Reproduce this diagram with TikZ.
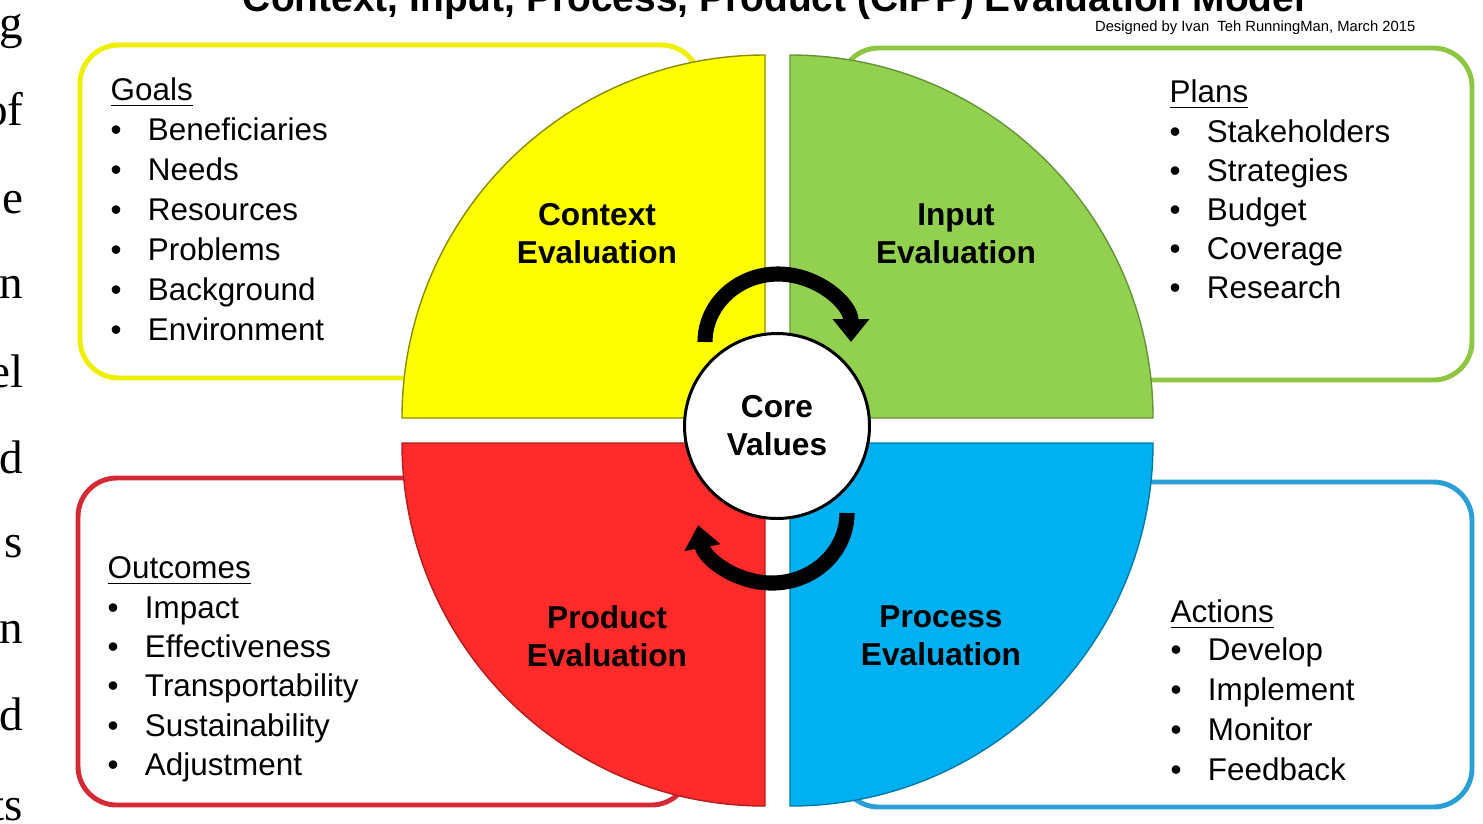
\documentclass[tikz,border=0pt]{standalone}
\usepackage{fontspec}
\setmainfont{Liberation Sans}
\newfontfamily\pageserif{Liberation Serif}
\usetikzlibrary{arrows.meta}
\definecolor{ctxyellow}{HTML}{FFFF00}
\definecolor{inpgreen}{HTML}{92D050}
\definecolor{prdred}{HTML}{FF2A2A}
\definecolor{prcblue}{HTML}{00B0F0}
\definecolor{goalline}{HTML}{EEF000}
\definecolor{planline}{HTML}{8DC640}
\definecolor{outcline}{HTML}{D42A35}
\definecolor{actline}{HTML}{2A9FD6}
\newcommand{\itm}[1]{\makebox[10.6pt][l]{\textbullet}#1}

\begin{document}
\begin{tikzpicture}[x=0.01cm,y=-0.01cm]
\tikzstyle{every node}+=[inner sep=0pt]
\tikzset{
  listbox/.style={line width=1.4pt, rounded corners=11pt},
  quad/.style={line width=0.4pt},
  cyc/.style={line width=4.3pt, -{Triangle[width=10pt,length=6.5pt]}},
  evl/.style={font=\bfseries\fontsize{9}{10.8}\selectfont, align=center},
  item/.style={font=\fontsize{8.93}{11}\selectfont, anchor=base west},
  edge/.style={font=\pageserif\fontsize{13.4}{14}\selectfont, anchor=base east}
}
\fill[white] (0,0) rectangle (1483,823);
\useasboundingbox (0,0) rectangle (1483,823);

\node[font=\bfseries\fontsize{11.07}{13}\selectfont, anchor=base] (title) at (774,11)
  {Context, Input, Process, Product (CIPP) Evaluation Model};
\node[font=\fontsize{4.2}{5}\selectfont, anchor=base east] (credit) at (1416,31)
  {Designed by Ivan\ \ Teh RunningMan, March 2015};

\foreach \t/\y [count=\i] in {g/38,of/125,e/213,n/298,el/387,d/473,s/557,n/643,d/730,ts/820}
  \node[edge] (m\i) at (24,\y) {\t};

\draw[listbox, goalline] (80,45) rectangle (700,378);
\draw[listbox, planline] (840,48) rectangle (1472,380);
\draw[listbox, outcline] (78,478) rectangle (690,805);
\draw[listbox, actline] (840,482) rectangle (1472,807);

\draw[quad, fill=ctxyellow, draw=ctxyellow!55!black] (765,418) -- (402,418)
  arc[start angle=180, end angle=270, radius=363] -- cycle;
\draw[quad, fill=inpgreen, draw=inpgreen!70!black] (790,418) -- (790,55)
  arc[start angle=270, end angle=360, radius=363] -- cycle;
\draw[quad, fill=prcblue, draw=prcblue!70!black] (790,443) -- (1153,443)
  arc[start angle=0, end angle=90, radius=363] -- cycle;
\draw[quad, fill=prdred, draw=prdred!70!black] (765,443) -- (765,806)
  arc[start angle=90, end angle=180, radius=363] -- cycle;

\coordinate (ctxarr) at (705,342);
\coordinate (prcarr) at (847,513);
\draw[cyc] (ctxarr) arc[start angle=180, end angle=360, x radius=73, y radius=68];
\draw[cyc] (prcarr) arc[start angle=0, end angle=170, x radius=75, y radius=70];

\node[circle, draw=black, line width=0.85pt, fill=white, minimum size=52.6pt,
  evl] (core) at (777,426) {Core\\Values};

\node[evl] (ctx) at (597,234) {Context\\Evaluation};
\node[evl] (inp) at (956,234) {Input\\Evaluation};
\node[evl] (prd) at (607,636) {Product\\Evaluation};
\node[evl] (prc) at (941,636) {Process\\Evaluation};

\node[item] (goals) at (110,100) {\underline{Goals}};
\foreach \t [count=\i] in {Beneficiaries,Needs,Resources,Problems,Background,Environment}
  \node[item] (g\i) at (110,100+40*\i) {\itm{\t}};

\node[item] (plans) at (1169,102) {\underline{Plans}};
\foreach \t [count=\i] in {Stakeholders,Strategies,Budget,Coverage,Research}
  \node[item] (p\i) at (1169,103+39*\i) {\itm{\t}};

\node[item] (outc) at (107,578) {\underline{Outcomes}};
\foreach \t [count=\i] in {Impact,Effectiveness,Transportability,Sustainability,Adjustment}
  \node[item] (o\i) at (107,579+39.3*\i) {\itm{\t}};

\node[item] (acts) at (1170,622) {\underline{Actions}};
\foreach \t [count=\i] in {Develop,Implement,Monitor,Feedback}
  \node[item] (a\i) at (1170,620+40*\i) {\itm{\t}};
\end{tikzpicture}
\end{document}
